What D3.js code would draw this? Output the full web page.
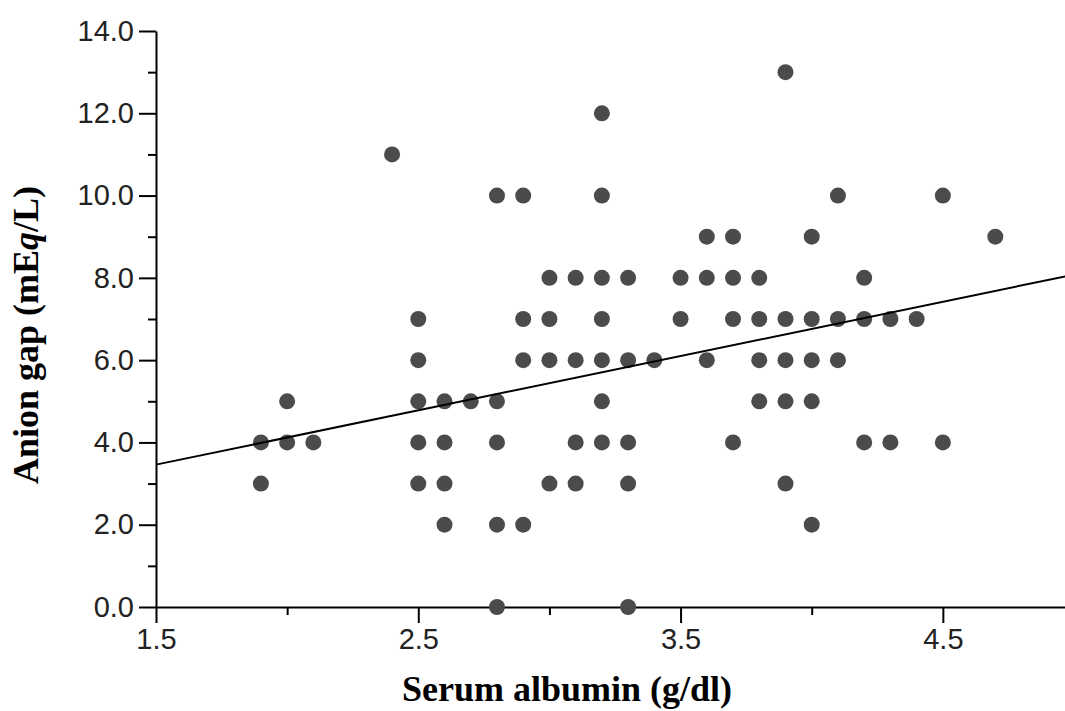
<!DOCTYPE html>
<html>
<head>
<meta charset="utf-8">
<script src="https://cdn.jsdelivr.net/npm/d3@7"></script>
<style>
  body { margin: 0; background: #fff; }
  .tick text { font-family: "Liberation Sans", Arial, sans-serif; fill: #222; }
</style>
</head>
<body>
<div id="chart"></div>
<script>
// serum albumin (g/dl) and anion gap (mEq/L), one column of dots per line
var albumin = [
    1.9, 1.9,
    2.0, 2.0,
    2.1,
    2.4,
    2.5, 2.5, 2.5, 2.5, 2.5,
    2.6, 2.6, 2.6, 2.6,
    2.7,
    2.8, 2.8, 2.8, 2.8, 2.8,
    2.9, 2.9, 2.9, 2.9,
    3.0, 3.0, 3.0, 3.0,
    3.1, 3.1, 3.1, 3.1,
    3.2, 3.2, 3.2, 3.2, 3.2, 3.2, 3.2,
    3.3, 3.3, 3.3, 3.3, 3.3,
    3.4,
    3.5, 3.5,
    3.6, 3.6, 3.6,
    3.7, 3.7, 3.7, 3.7,
    3.8, 3.8, 3.8, 3.8,
    3.9, 3.9, 3.9, 3.9, 3.9,
    4.0, 4.0, 4.0, 4.0, 4.0,
    4.1, 4.1, 4.1,
    4.2, 4.2, 4.2,
    4.3, 4.3,
    4.4,
    4.5, 4.5,
    4.7
];
var anionGap = [
    4, 3,
    5, 4,
    4,
    11,
    7, 6, 5, 4, 3,
    5, 4, 3, 2,
    5,
    10, 5, 4, 2, 0,
    10, 7, 6, 2,
    8, 7, 6, 3,
    8, 6, 4, 3,
    12, 10, 8, 7, 6, 5, 4,
    8, 6, 4, 3, 0,
    6,
    8, 7,
    9, 8, 6,
    9, 8, 7, 4,
    8, 7, 6, 5,
    13, 7, 6, 5, 3,
    9, 7, 6, 5, 2,
    10, 7, 6,
    8, 7, 4,
    7, 4,
    7,
    10, 4,
    9
];

// fitted regression line
var fitX = [1.5, 5.0];
var fitY = [3.46, 8.08];

var xMajor = [1.5, 2.5, 3.5, 4.5];
var xMinor = [2.0, 3.0, 4.0];
var yMajor = [0, 2, 4, 6, 8, 10, 12, 14];
var yMinor = [1, 3, 5, 7, 9, 11, 13];

var width = 1065, height = 711;

var svg = d3.select("#chart").append("svg")
    .attr("width", width)
    .attr("height", height)
    .style("display", "block");

var x = d3.scaleLinear().domain([1.5, 5.0]).range([156, 1074]);
var y = d3.scaleLinear().domain([0, 14]).range([607, 31]);

// minor ticks first, under the main axes
svg.append("g")
    .attr("transform", "translate(0," + y(0) + ")")
    .call(d3.axisBottom(x).tickValues(xMinor).tickSize(8).tickSizeOuter(0).tickFormat(""))
    .call(function(g) { g.select(".domain").remove(); });

svg.append("g")
    .attr("transform", "translate(" + x(1.5) + ",0)")
    .call(d3.axisLeft(y).tickValues(yMinor).tickSize(8).tickSizeOuter(0).tickFormat(""))
    .call(function(g) { g.select(".domain").remove(); });

var xAxis = svg.append("g")
    .attr("transform", "translate(0," + y(0) + ")")
    .call(d3.axisBottom(x).tickValues(xMajor).tickSize(16).tickSizeOuter(0)
        .tickPadding(5).tickFormat(d3.format(".1f")));
xAxis.selectAll("text").style("font-size", "29px");

var yAxis = svg.append("g")
    .attr("transform", "translate(" + x(1.5) + ",0)")
    .call(d3.axisLeft(y).tickValues(yMajor).tickSize(17).tickSizeOuter(0)
        .tickPadding(5).tickFormat(d3.format(".1f")));
yAxis.selectAll("text").style("font-size", "29px");

svg.selectAll(".domain, .tick line").attr("stroke", "#000").attr("stroke-width", 2);

// dots
svg.append("g").selectAll("circle")
    .data(albumin)
    .enter().append("circle")
    .attr("cx", function(d) { return x(d); })
    .attr("cy", function(d, i) { return y(anionGap[i]); })
    .attr("r", 8)
    .attr("fill", "#4b4b4b");

// regression line
svg.append("line")
    .attr("x1", x(fitX[0])).attr("y1", y(fitY[0]))
    .attr("x2", x(fitX[1])).attr("y2", y(fitY[1]))
    .attr("stroke", "#000")
    .attr("stroke-width", 2);

// axis titles
svg.append("text")
    .attr("x", 567)
    .attr("y", 701)
    .attr("text-anchor", "middle")
    .style("font-family", "'Liberation Serif', 'Times New Roman', serif")
    .style("font-weight", "bold")
    .style("font-size", "36px")
    .text("Serum albumin (g/dl)");

var yTitle = svg.append("text")
    .attr("transform", "translate(38,335) rotate(-90)")
    .attr("text-anchor", "middle")
    .style("font-family", "'Liberation Serif', 'Times New Roman', serif")
    .style("font-weight", "bold")
    .style("font-size", "36px");
yTitle.append("tspan").text("Anion gap (mE");
yTitle.append("tspan").style("font-style", "italic").text("q");
yTitle.append("tspan").text("/L)");
</script>
</body>
</html>
